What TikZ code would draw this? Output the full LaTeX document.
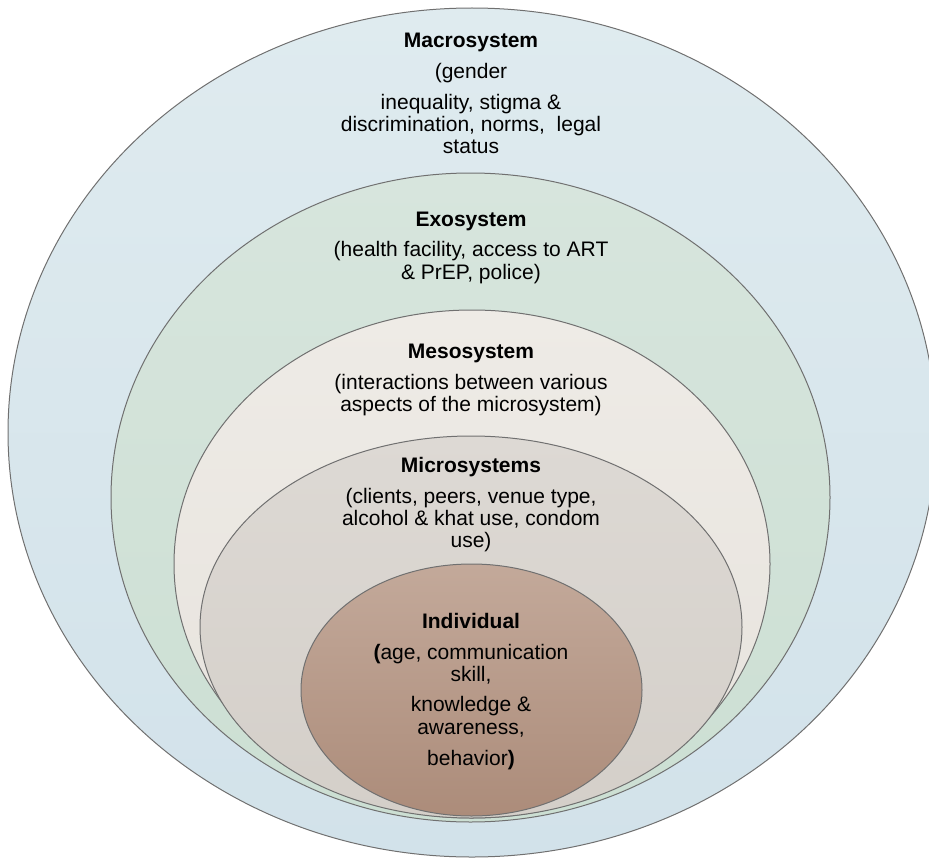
\documentclass[tikz,border=0pt]{standalone}
\usepackage{fontspec}
\setmainfont{Liberation Sans}
\definecolor{edgegray}{HTML}{707070}
\definecolor{macroTop}{HTML}{DFEBEF}
\definecolor{macroBot}{HTML}{D2E2EA}
\definecolor{exoTop}{HTML}{D7E5DD}
\definecolor{exoBot}{HTML}{CCDFD3}
\definecolor{mesoTop}{HTML}{EEEBE6}
\definecolor{mesoBot}{HTML}{E7E3DD}
\definecolor{microTop}{HTML}{DDD9D4}
\definecolor{microBot}{HTML}{D4CFC9}
\definecolor{indTop}{HTML}{C3A99A}
\definecolor{indBot}{HTML}{AC8C7A}
\tikzset{
  ring/.style={draw=edgegray, line width=1pt},
  txt/.style={font=\fontsize{21}{22}\selectfont, inner sep=0pt, anchor=base, text=black},
  ttl/.style={txt, font=\fontsize{21}{22}\selectfont\bfseries},
}
\begin{document}
\begin{tikzpicture}[x=1pt,y=-1pt]
\useasboundingbox (0,0) rectangle (929,859);
\clip (0,0) rectangle (929,859);
% ellipses
\path[ring, top color=macroTop, bottom color=macroBot] (472,432.5) ellipse [x radius=464pt, y radius=424.5pt];
\path[ring, top color=exoTop, bottom color=exoBot] (470.5,497.5) ellipse [x radius=359.5pt, y radius=324.5pt];
\path[ring, top color=mesoTop, bottom color=mesoBot] (472,564) ellipse [x radius=298pt, y radius=254pt];
\path[ring, top color=microTop, bottom color=microBot] (471,627) ellipse [x radius=271pt, y radius=191pt];
\path[ring, top color=indTop, bottom color=indBot] (471.5,690) ellipse [x radius=170.5pt, y radius=126pt];
% Macrosystem
\node[ttl] (ma0) at (471,48) {Macrosystem};
\node[txt] (ma1) at (471,78) {(gender};
\node[txt] (ma2) at (471,109) {inequality, stigma \&};
\node[txt] (ma3) at (471,131) {discrimination, norms,\ \ legal};
\node[txt] (ma4) at (471,153) {status};
% Exosystem
\node[ttl] (ex0) at (471,226) {Exosystem};
\node[txt] (ex1) at (471,256) {(health facility, access to ART};
\node[txt] (ex2) at (471,279) {\& PrEP, police)};
% Mesosystem
\node[ttl] (me0) at (471,358) {Mesosystem};
\node[txt] (me1) at (471,389) {(interactions between various};
\node[txt] (me2) at (471,411) {aspects of the microsystem)};
% Microsystems
\node[ttl] (mi0) at (471,472) {Microsystems};
\node[txt] (mi1) at (471,503) {(clients, peers, venue type,};
\node[txt] (mi2) at (471,525) {alcohol \& khat use, condom};
\node[txt] (mi3) at (471,547) {use)};
% Individual
\node[ttl] (in0) at (471,628) {Individual};
\node[txt] (in1) at (471,659) {\textbf{(}age, communication};
\node[txt] (in2) at (471,681) {skill,};
\node[txt] (in3) at (471,711) {knowledge \&};
\node[txt] (in4) at (471,734) {awareness,};
\node[txt] (in5) at (471,765) {behavior\textbf{)}};
\end{tikzpicture}
\end{document}
